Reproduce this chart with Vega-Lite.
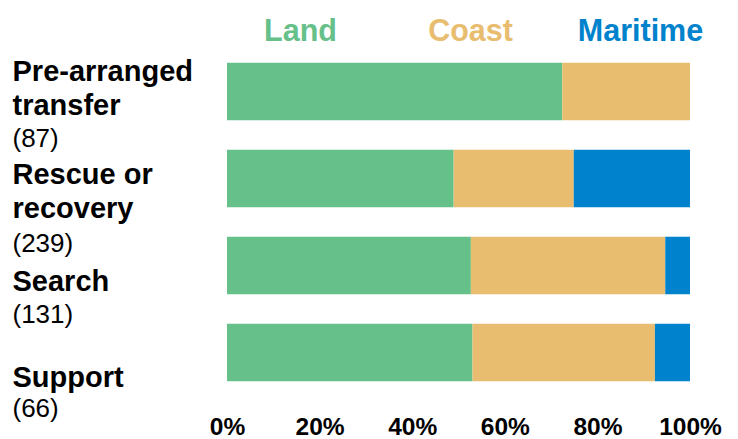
{
  "$schema": "https://vega.github.io/schema/vega-lite/v6.json",
  "width": 463,
  "height": 348,
  "autosize": {"type": "none"},
  "padding": {"left": 227, "top": 48, "right": 48, "bottom": 43},
  "background": "white",
  "config": {"view": {"stroke": null}, "font": "Liberation Sans"},
  "data": {
    "values": [
      {"purpose": "Pre-arranged transfer", "environment": "Land", "count": 63},
      {"purpose": "Pre-arranged transfer", "environment": "Coast", "count": 24},
      {"purpose": "Pre-arranged transfer", "environment": "Maritime", "count": 0},
      {"purpose": "Rescue or recovery", "environment": "Land", "count": 117},
      {"purpose": "Rescue or recovery", "environment": "Coast", "count": 62},
      {"purpose": "Rescue or recovery", "environment": "Maritime", "count": 60},
      {"purpose": "Search", "environment": "Land", "count": 69},
      {"purpose": "Search", "environment": "Coast", "count": 55},
      {"purpose": "Search", "environment": "Maritime", "count": 7},
      {"purpose": "Support", "environment": "Land", "count": 35},
      {"purpose": "Support", "environment": "Coast", "count": 26},
      {"purpose": "Support", "environment": "Maritime", "count": 5}
    ]
  },
  "transform": [
    {"calculate": "indexof(['Land','Coast','Maritime'], datum.environment)", "as": "envOrder"}
  ],
  "layer": [
    {
      "mark": {"type": "bar"},
      "encoding": {
        "y": {
          "field": "purpose",
          "type": "nominal",
          "sort": ["Pre-arranged transfer", "Rescue or recovery", "Search", "Support"],
          "scale": {"type": "band", "paddingInner": 0.34, "paddingOuter": 0.17},
          "axis": {
            "title": null,
            "orient": "left",
            "domain": false,
            "ticks": false,
            "tickSize": 0,
            "grid": false,
            "labelPadding": 215,
            "labelAlign": "left",
            "labelBaseline": "alphabetic",
            "labelFont": "Liberation Sans",
            "labelFontSize": 29,
            "labelFontWeight": "bold",
            "labelColor": "black",
            "labelLineHeight": 34,
            "labelLimit": 400,
            "labelOffset": {"expr": "datum.value == 'Pre-arranged transfer' ? -11 : datum.value == 'Rescue or recovery' ? 5 : datum.value == 'Search' ? 25 : 34"},
            "labelExpr": "datum.value == 'Pre-arranged transfer' ? ['Pre-arranged','transfer'] : datum.value == 'Rescue or recovery' ? ['Rescue or','recovery'] : datum.value"
          }
        },
        "x": {
          "field": "count",
          "type": "quantitative",
          "stack": "normalize",
          "scale": {"domain": [0, 1]},
          "axis": {
            "title": null,
            "format": ".0%",
            "values": [0, 0.2, 0.4, 0.6, 0.8, 1],
            "domain": false,
            "ticks": false,
            "tickSize": 0,
            "grid": false,
            "labelPadding": 19,
            "labelBaseline": "top",
            "labelFont": "Liberation Sans",
            "labelFontSize": 24.5,
            "labelFontWeight": "bold",
            "labelColor": "black",
            "labelFlush": false,
            "labelOverlap": false
          }
        },
        "color": {
          "field": "environment",
          "type": "nominal",
          "sort": ["Land", "Coast", "Maritime"],
          "scale": {"domain": ["Land", "Coast", "Maritime"], "range": ["#66C08A", "#E8BD70", "#0082CC"]},
          "legend": {
            "title": null,
            "orient": "none",
            "legendX": -27,
            "legendY": -31,
            "direction": "horizontal",
            "symbolSize": 1,
            "symbolOpacity": 0,
            "symbolStrokeWidth": 0,
            "labelFont": "Liberation Sans",
            "labelFontSize": 30.5,
            "labelFontWeight": "bold",
            "labelAlign": "center",
            "labelBaseline": "middle",
            "labelOffset": 70,
            "columnPadding": 6,
            "gridAlign": "all",
            "labelLimit": 400,
            "encode": {
              "labels": {"update": {"fill": {"scale": "color", "field": "value"}}}
            }
          }
        },
        "order": {"field": "envOrder", "type": "quantitative"}
      }
    },
    {
      "mark": {"type": "point", "opacity": 0},
      "encoding": {
        "y": {
          "field": "purpose",
          "type": "nominal",
          "sort": ["Pre-arranged transfer", "Rescue or recovery", "Search", "Support"],
          "scale": {"type": "band", "paddingInner": 0.34, "paddingOuter": 0.17},
          "axis": {
            "title": null,
            "orient": "left",
            "domain": false,
            "ticks": false,
            "tickSize": 0,
            "grid": false,
            "labelPadding": 215,
            "labelAlign": "left",
            "labelBaseline": "alphabetic",
            "labelFont": "Liberation Sans",
            "labelFontSize": 26,
            "labelFontWeight": "normal",
            "labelColor": "black",
            "labelLimit": 400,
            "labelOffset": {"expr": "datum.value == 'Pre-arranged transfer' ? 55 : datum.value == 'Rescue or recovery' ? 73 : datum.value == 'Search' ? 57 : 64"},
            "labelExpr": "datum.value == 'Pre-arranged transfer' ? '(87)' : datum.value == 'Rescue or recovery' ? '(239)' : datum.value == 'Search' ? '(131)' : '(66)'"
          }
        }
      }
    }
  ],
  "resolve": {"scale": {"y": "independent"}, "axis": {"y": "independent"}}
}
